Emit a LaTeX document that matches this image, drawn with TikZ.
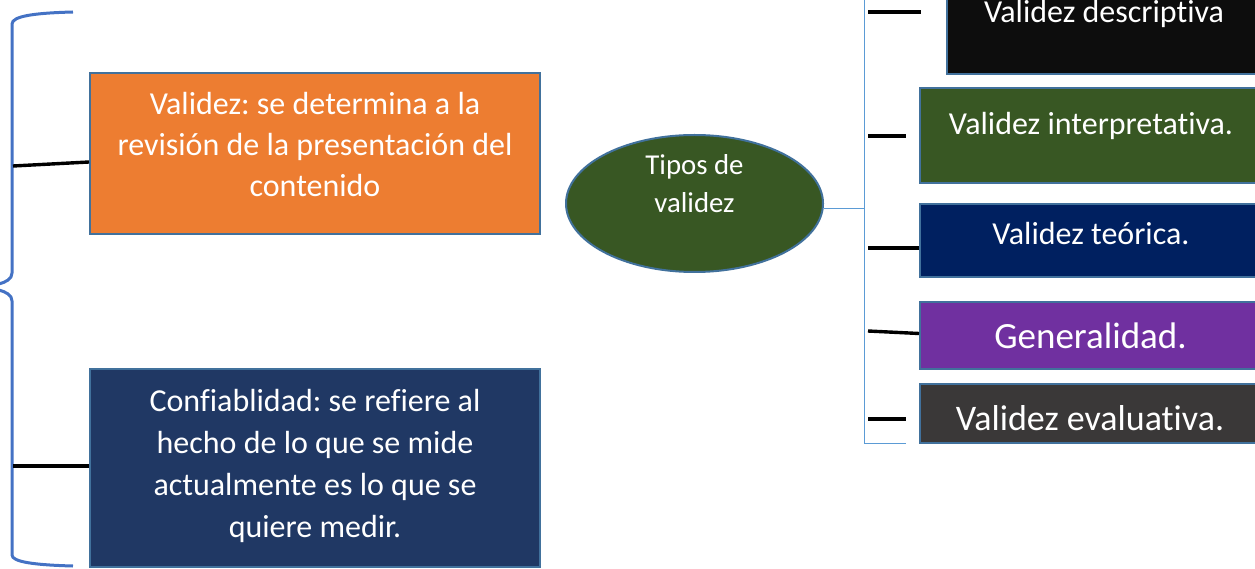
\documentclass[tikz,border=0pt]{standalone}
\usepackage{fontspec}
\setmainfont{Carlito}[RawFeature={-liga;-clig;-dlig;-calt;-rlig}]
\frenchspacing
\usetikzlibrary{shapes.geometric}

\definecolor{orangeF}{HTML}{ED7D31}
\definecolor{navyL}{HTML}{203864}
\definecolor{navyR}{HTML}{002060}
\definecolor{greenF}{HTML}{385723}
\definecolor{blackF}{HTML}{0D0D0D}
\definecolor{purpleF}{HTML}{7030A0}
\definecolor{grayF}{HTML}{3A3838}
\definecolor{borderC}{HTML}{41719C}
\definecolor{braceC}{HTML}{4472C4}
\definecolor{bracketC}{HTML}{5B9BD5}

\tikzset{
  vbox/.style={rectangle, draw=borderC, line width=2pt, inner sep=0pt},
  vtext/.style={text=white, anchor=base, inner sep=0pt, align=center},
  tick/.style={line width=3.4pt, black},
}

\begin{document}
\begin{tikzpicture}[x=1pt,y=1pt,yscale=-1,xscale=1]
\useasboundingbox (0,0) rectangle (1255,569);

%Shape: Brace
\draw [braceC, line width=3pt] (73,12) .. controls (35,13) and (12,16) .. (12,24) -- (12,273) .. controls (12,279) and (6,282) .. (-1,284) ;
\draw [braceC, line width=3pt] (-1,290) .. controls (6,292) and (12,295) .. (12,301) -- (12,555) .. controls (12,562) and (35,565) .. (73,566) ;

%Shape: Rectangle
\node [vbox, fill=orangeF, minimum width=450pt, minimum height=161pt] (valid) at (315,153.5) {};
%Shape: Rectangle
\node [vbox, fill=navyL, minimum width=450pt, minimum height=198pt] (conf) at (315,468) {};
%Shape: Ellipse
\node [ellipse, draw=borderC, line width=2pt, fill=greenF, inner sep=0pt, minimum width=257pt, minimum height=137pt] (tipos) at (694.5,203.5) {};

%Shape: Rectangle
\node [vbox, fill=blackF, minimum width=314pt, minimum height=119pt] (desc) at (1104,14.5) {};
%Shape: Rectangle
\node [vbox, fill=greenF, minimum width=341pt, minimum height=95pt] (interp) at (1090.5,135.5) {};
%Shape: Rectangle
\node [vbox, fill=navyR, minimum width=341pt, minimum height=73pt] (teo) at (1090.5,240.5) {};
%Shape: Rectangle
\node [vbox, fill=purpleF, minimum width=341pt, minimum height=67pt] (gen) at (1090.5,335.5) {};
%Shape: Rectangle
\node [vbox, fill=grayF, minimum width=341pt, minimum height=59pt] (eval) at (1090.5,413.5) {};

%Straight Lines (brace to boxes)
\coordinate (lv1) at (13,166);
\coordinate (lv1e) at (0,162);
\coordinate (lv2) at (13,466);
\draw [tick] (lv1) -- (valid.west |- lv1e) ;
\draw [tick] (lv2) -- (conf.west |- lv2) ;

%Straight Lines (bracket)
\coordinate (bMid) at (864,209);
\coordinate (bTop) at (864,-2);
\coordinate (bBot) at (864,443);
\coordinate (bEnd) at (906,443);
\draw [bracketC, line width=1pt] (tipos.east |- bMid) -- (bMid) ;
\draw [bracketC, line width=1pt] (bTop) -- (bBot) -- (bEnd) ;

%Straight Lines (ticks)
\coordinate (r1) at (868,12);
\coordinate (r2) at (868,136);
\coordinate (r3) at (868,248);
\coordinate (r4) at (868,331);
\coordinate (r4e) at (0,333.5);
\coordinate (r5) at (868,419);
\draw [tick] (r1) -- ++(53,0) ;
\draw [tick] (r2) -- ++(38,0) ;
\draw [tick] (r3) -- (teo.west |- r3) ;
\draw [tick] (r4) -- (gen.west |- r4e) ;
\draw [tick] (r5) -- ++(38,0) ;

% Text Node
\node [vtext, font=\fontsize{32}{41}\selectfont] (validtxt) at (315,197) {Validez: se determina a la\\revisión de la presentación del\\contenido};
% Text Node
\node [vtext, font=\fontsize{32}{42}\selectfont] (conftxt) at (315,537) {Confiablidad: se refiere al\\hecho de lo que se mide\\actualmente es lo que se\\quiere medir.};
% Text Node
\node [vtext, font=\fontsize{28.8}{38}\selectfont] (tipostxt) at (694.5,213) {Tipos de\\validez};
% Text Node
\node [vtext, font=\fontsize{32}{40}\selectfont] (desctxt) at (1104,23) {Validez descriptiva};
% Text Node
\node [vtext, font=\fontsize{32}{40}\selectfont] (interptxt) at (1091,135) {Validez interpretativa.};
% Text Node
\node [vtext, font=\fontsize{32}{40}\selectfont] (teotxt) at (1091,245) {Validez teórica.};
% Text Node
\node [vtext, font=\fontsize{37}{44}\selectfont] (gentxt) at (1090.5,348) {Generalidad.};
% Text Node
\node [vtext, font=\fontsize{36}{44}\selectfont] (evaltxt) at (1090,430) {Validez evaluativa.};

\end{tikzpicture}
\end{document}
